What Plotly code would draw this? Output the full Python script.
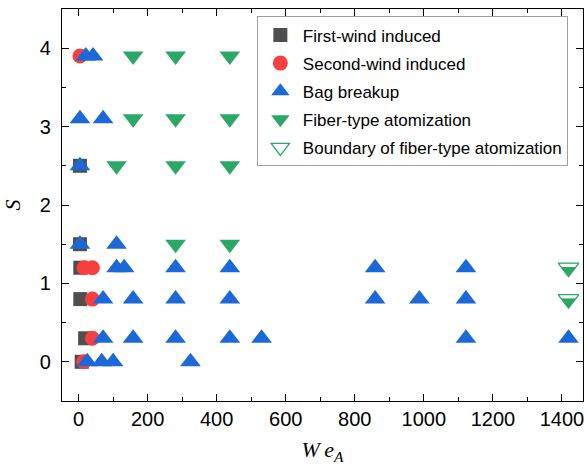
import plotly.graph_objects as go

# ---- data ----
first_x = [4, 4, 5, 5, 19, 9]
first_s = [2.5, 1.5, 1.2, 0.8, 0.3, 0.0]

second_x = [4, 16, 40, 40, 40, 15]
second_s = [3.9, 1.2, 1.2, 0.8, 0.3, 0.0]

bag_x = [21, 42,
         4, 71,
         4,
         4, 110,
         110, 132, 281, 438, 859, 1122,
         71, 158, 281, 438, 859, 987, 1122,
         71, 158, 281, 438, 530, 1122, 1419,
         25, 67, 100, 324]
bag_s = [3.9, 3.9,
         3.1, 3.1,
         2.5,
         1.5, 1.5,
         1.2, 1.2, 1.2, 1.2, 1.2, 1.2,
         0.8, 0.8, 0.8, 0.8, 0.8, 0.8, 0.8,
         0.3, 0.3, 0.3, 0.3, 0.3, 0.3, 0.3,
         0.0, 0.0, 0.0, 0.0]

fiber_x = [158, 281, 438, 158, 281, 438, 110, 281, 438, 281, 438]
fiber_s = [3.9, 3.9, 3.9, 3.1, 3.1, 3.1, 2.5, 2.5, 2.5, 1.5, 1.5]

boundary_x = [1419, 1419]
boundary_s = [1.2, 0.8]

names = ["First-wind induced", "Second-wind induced", "Bag breakup",
         "Fiber-type atomization", "Boundary of fiber-type atomization"]

x_ticks = [0, 200, 400, 600, 800, 1000, 1200, 1400]
y_ticks = [0, 1, 2, 3, 4]

GRAY = "#4f4f4f"
RED = "#f5403f"
BLUE = "#1b68d9"
GREEN = "#2ca866"

TRI = 18

fig = go.Figure()
fig.add_trace(go.Scatter(x=first_x, y=first_s, mode="markers", name=names[0],
                         legendgroup="g1",
                         marker=dict(symbol="square", size=14, color=GRAY)))
fig.add_trace(go.Scatter(x=second_x, y=second_s, mode="markers", name=names[1],
                         legendgroup="g2",
                         marker=dict(symbol="circle", size=15, color=RED)))
fig.add_trace(go.Scatter(x=bag_x, y=bag_s, mode="markers", name=names[2],
                         legendgroup="g3",
                         marker=dict(symbol="triangle-up", size=TRI, color=BLUE)))
fig.add_trace(go.Scatter(x=fiber_x, y=fiber_s, mode="markers", name=names[3],
                         legendgroup="g4",
                         marker=dict(symbol="triangle-down", size=TRI, color=GREEN)))
# boundary marker: green filled triangle with white top band and green outline
fig.add_trace(go.Scatter(x=boundary_x, y=boundary_s, mode="markers", showlegend=False,
                         legendgroup="g5", hoverinfo="skip",
                         marker=dict(symbol="triangle-down", size=TRI, color=GREEN)))
fig.add_trace(go.Scatter(x=boundary_x, y=boundary_s, mode="markers", showlegend=False,
                         legendgroup="g5", hoverinfo="skip",
                         marker=dict(symbol="line-ew-open", size=15, color="white",
                                     angle=180, standoff=2.6,
                                     line=dict(color="white", width=3.8))))
fig.add_trace(go.Scatter(x=boundary_x, y=boundary_s, mode="markers", name=names[4],
                         legendgroup="g5",
                         marker=dict(symbol="triangle-down-open", size=TRI, color=GREEN,
                                     line=dict(color=GREEN, width=1.3))))

axis_common = dict(showline=True, linecolor="black", linewidth=1.3, mirror="ticks",
                   ticks="inside", ticklen=7, tickwidth=1.3, tickcolor="black",
                   showgrid=False, zeroline=False, automargin=False,
                   tickfont=dict(family="Liberation Sans, Arial", size=20, color="black"))

fig.update_xaxes(range=[-48, 1461], tickmode="array", tickvals=x_ticks,
                 minor=dict(ticks="inside", ticklen=4, tickwidth=1.3, tickcolor="black",
                            dtick=100, tick0=0, showgrid=False),
                 title=dict(text="<i>W\u2009e</i><sub><i>A</i></sub>", standoff=12,
                            font=dict(family="Liberation Serif, Times New Roman", size=22)),
                 **axis_common)
fig.update_yaxes(range=[-0.5, 4.5], tickmode="array", tickvals=y_ticks,
                 minor=dict(ticks="inside", ticklen=4, tickwidth=1.3, tickcolor="black",
                            dtick=0.5, tick0=0, showgrid=False),
                 ticklabelstandoff=6,
                 title=dict(text="<i>S</i>", standoff=14,
                            font=dict(family="Liberation Serif, Times New Roman", size=22)),
                 **axis_common)

fig.update_layout(
    width=587, height=467,
    margin=dict(l=62, r=4, t=9, b=66, autoexpand=False),
    plot_bgcolor="white", paper_bgcolor="white",
    font=dict(family="Liberation Sans, Arial", color="black"),
    legend=dict(x=0.374, y=0.981, xanchor="left", yanchor="top",
                bordercolor="#a0a0a0", borderwidth=1, bgcolor="white",
                font=dict(family="Liberation Sans, Arial", size=17, color="black"),
                traceorder="grouped", tracegroupgap=3, itemwidth=35),
)

# remove the default page margin so the figure sits at the window's top-left corner
fig.write_html("out.html",
               config={"displayModeBar": False},
               post_script="document.body.style.margin='0';document.body.style.overflow='hidden';")
